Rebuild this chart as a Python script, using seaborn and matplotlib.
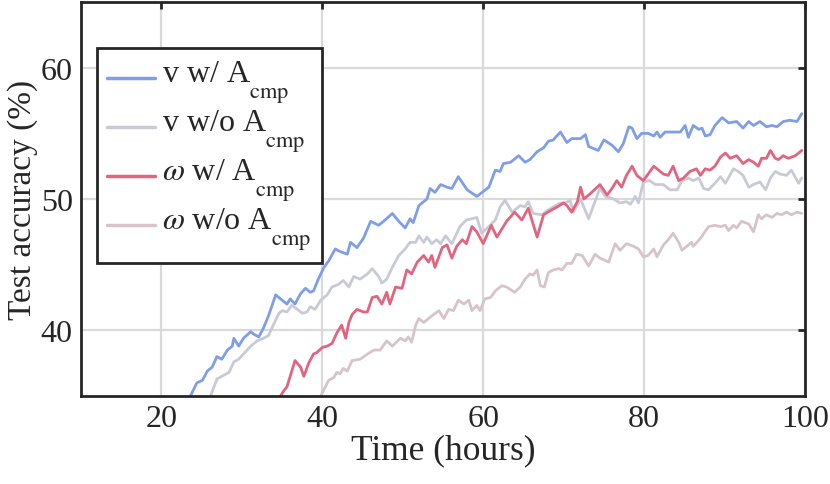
import numpy as np
import pandas as pd
import matplotlib
matplotlib.use("Agg")
import matplotlib.pyplot as plt
from matplotlib.mathtext import MathTextParser
from matplotlib.font_manager import FontProperties
import seaborn as sns

# ---- data ----
v_w_x = [23.6,24.4,25.1,25.7,26.3,26.9,27.5,28.2,28.8,29.0,29.6,30.2,31.1,31.5,32.1,32.7,33.3,34.2,34.6,35.0,
         35.6,36.0,36.6,37.3,37.9,38.5,38.9,39.5,40.2,40.8,41.6,42.2,43.1,43.5,44.3,45.1,46.0,47.0,47.8,48.7,
         49.5,50.3,50.9,51.3,52.0,53.0,53.4,54.0,54.7,55.5,56.1,56.9,58.0,59.2,60.7,61.5,62.1,62.5,63.4,64.4,
         65.2,65.8,66.7,67.5,68.1,68.7,69.6,70.4,71.0,72.1,72.7,73.1,74.3,75.0,76.0,76.8,77.4,78.1,78.5,79.1,
         79.7,80.5,81.2,81.6,82.0,82.6,84.5,85.1,85.5,86.1,86.8,87.2,87.6,88.2,88.8,89.7,90.5,91.5,92.3,93.0,
         93.6,94.4,95.2,95.9,96.5,97.3,98.1,99.0,99.6]
v_w_y = [35.0,36.0,36.2,36.9,37.2,38.0,37.8,38.5,38.8,39.4,38.8,39.4,39.9,39.7,39.5,40.2,41.1,42.7,42.5,42.3,
         42.0,42.4,42.0,42.8,43.2,42.9,43.0,43.9,44.8,45.3,46.2,46.0,45.8,46.7,46.3,47.0,48.3,48.0,48.4,48.9,
         48.3,47.8,48.5,48.2,49.5,50.0,50.8,50.5,51.1,50.9,50.8,51.7,50.7,50.2,50.9,52.2,52.1,52.7,52.8,53.3,
         52.8,53.0,53.6,53.9,54.4,54.5,55.1,54.3,54.6,54.6,54.9,54.0,53.7,54.5,54.1,53.6,54.2,55.5,55.4,54.6,
         55.0,55.0,54.8,55.1,54.7,55.1,55.1,55.6,54.7,55.6,55.3,55.4,54.8,54.9,55.6,56.2,55.8,55.9,55.4,55.9,
         55.6,55.9,55.5,55.6,55.5,55.9,56.0,55.9,56.5]

v_wo_x = [26.1,26.9,27.5,28.4,29.0,29.6,30.2,31.1,31.9,32.7,33.3,33.9,34.6,35.0,35.6,36.2,36.9,37.5,38.1,38.5,
          39.1,39.8,40.6,41.2,42.0,42.6,43.3,43.9,44.7,45.6,46.2,47.0,47.4,48.0,48.7,49.5,50.3,50.9,51.6,52.0,
          52.6,53.0,53.6,54.2,54.7,55.3,56.1,57.1,57.9,58.6,59.2,59.8,60.7,61.5,62.1,62.7,63.6,64.6,65.2,65.6,
          66.2,67.3,67.9,68.7,69.6,70.2,70.8,71.2,72.1,73.1,73.7,74.5,75.2,76.2,77.0,77.8,78.3,78.9,79.3,79.9,
          80.7,81.4,82.4,83.2,84.1,84.7,85.5,86.1,86.8,87.4,88.0,88.8,89.5,90.1,91.1,91.7,92.3,93.0,93.6,94.4,
          95.1,95.7,96.3,96.9,97.7,98.3,99.2,99.6]
v_wo_y = [35.0,36.3,36.5,36.8,37.6,37.8,38.2,38.8,39.2,39.4,39.6,40.4,41.3,41.5,41.4,41.9,41.6,41.3,41.4,41.8,
          41.6,42.3,42.7,43.3,43.5,43.8,43.3,44.1,43.9,44.3,44.7,44.1,43.6,43.9,44.8,45.7,46.2,46.7,46.7,47.2,
          46.7,47.1,46.6,46.9,46.6,47.2,46.6,47.9,48.4,48.5,48.6,47.4,47.9,48.4,49.4,49.9,49.0,49.5,49.4,49.8,
          48.9,48.8,49.1,49.4,49.7,49.7,49.9,49.0,50.0,48.5,49.5,50.8,50.2,50.0,49.7,49.8,49.6,50.2,49.7,51.3,
          51.4,51.1,51.1,50.7,50.7,51.4,51.6,51.4,51.6,50.8,50.7,51.2,51.7,51.2,52.3,52.1,51.8,50.9,51.1,51.3,
          50.7,51.6,52.1,51.9,51.8,52.2,51.2,51.6]

w_w_x = [34.8,35.2,35.6,36.0,36.6,37.3,37.7,38.3,38.9,39.3,40.0,40.6,41.2,41.8,42.4,42.9,43.3,43.7,44.3,45.1,
         45.6,46.2,46.8,47.4,48.0,48.4,49.1,49.9,50.5,51.1,51.8,52.6,53.2,53.6,54.0,54.9,55.5,56.1,56.7,57.4,
         57.9,58.6,59.2,60.0,61.0,61.7,62.9,63.9,64.8,65.6,66.0,66.7,67.5,68.3,69.2,70.0,70.4,71.0,71.7,72.1,
         72.5,73.3,74.5,75.4,76.0,76.6,77.2,77.8,78.5,79.1,79.9,81.2,81.8,82.4,83.0,83.6,84.3,84.9,85.7,86.5,
         87.0,87.6,88.2,88.8,89.5,90.1,90.7,91.5,92.3,93.0,93.6,94.2,94.6,95.2,95.7,96.3,96.7,97.3,97.9,98.8,
         99.6]
w_w_y = [35.0,35.4,35.7,36.5,37.7,37.2,36.5,37.5,38.2,38.3,38.7,38.8,39.0,39.8,40.4,39.4,40.6,41.2,41.6,41.4,
         41.4,42.5,42.6,42.0,42.9,42.0,43.3,43.2,44.6,44.3,45.2,45.7,45.2,45.7,44.8,46.3,46.5,45.5,46.4,46.9,
         46.6,47.9,47.5,46.6,48.0,47.1,48.3,49.0,48.4,49.3,48.5,47.1,48.8,49.1,49.4,49.7,49.5,49.0,49.8,50.9,
         50.0,50.4,51.1,50.3,50.8,51.4,50.9,51.8,52.5,51.8,51.4,52.5,52.2,51.9,51.8,52.5,51.4,51.6,52.1,52.3,
         51.8,52.3,52.2,52.5,53.2,53.5,53.1,53.3,52.7,53.0,52.8,52.5,53.1,53.1,53.7,53.1,53.0,53.3,53.1,53.3,
         53.7]

w_wo_x = [39.8,40.2,40.8,41.4,41.8,42.2,42.6,43.1,43.7,44.7,45.6,46.4,47.2,48.0,48.7,49.7,50.3,50.7,51.1,51.6,
          52.0,52.6,53.6,54.5,55.1,55.7,56.3,56.9,57.6,58.2,58.6,59.2,59.6,60.2,60.9,61.5,62.3,62.9,63.9,64.6,
          65.2,65.8,66.2,66.7,67.1,67.6,68.1,68.7,69.4,69.8,70.4,71.0,71.6,72.3,73.1,73.9,74.5,75.6,76.4,77.0,
          77.8,78.7,79.3,79.9,80.5,81.2,81.6,82.4,83.0,83.6,84.3,84.7,85.3,85.9,86.1,87.0,88.0,88.8,89.5,90.1,
          90.5,91.1,91.5,92.1,93.0,93.6,94.2,94.6,95.2,95.9,96.5,97.1,97.7,98.3,99.0,99.6]
w_wo_y = [35.0,35.5,36.2,36.4,36.8,36.7,37.1,36.9,37.7,37.8,38.2,38.5,38.5,39.2,38.8,39.4,39.2,39.5,39.1,40.4,
          40.9,40.6,41.1,41.5,40.9,41.6,41.5,42.3,42.0,42.3,41.5,41.9,41.5,42.4,42.5,43.0,43.4,43.3,42.9,43.3,
          43.9,44.3,44.2,44.6,43.4,43.3,44.4,44.6,44.7,44.6,45.1,45.1,45.8,45.7,44.9,45.8,45.5,45.2,46.6,46.1,
          46.6,46.4,46.2,45.6,45.7,46.2,45.6,46.5,46.9,47.4,46.7,46.1,46.4,46.7,46.4,47.0,47.9,48.0,47.9,48.0,
          47.6,48.0,47.8,48.3,48.1,47.5,48.8,48.5,48.8,48.6,48.9,48.8,49.0,48.8,49.0,48.9]

label_heads = ["v w/ A", "v w/o A", r"$\omega$ w/ A", r"$\omega$ w/o A"]
subscript = "cmp"
colors = ["#7f9ee9", "#c8cad6", "#e2657f", "#d6c4ca"]
xticks = [20, 40, 60, 80, 100]
yticks = [40, 50, 60]

sns.set_theme(style="white")
plt.rcParams["font.family"] = ["Liberation Serif", "DejaVu Serif"]
plt.rcParams["mathtext.fontset"] = "stix"

LEG_FS = 23

# subscript dropped well below the baseline (as in the reference); fall back if unsupported
def make_label(head):
    cand = head + r"$\underset{\mathrm{" + subscript + r"}}{\,}$"
    try:
        MathTextParser("path").parse(cand, dpi=72, prop=FontProperties(size=20))
        return cand
    except Exception:
        return head + r"$_{\mathrm{" + subscript + r"}}$"

labels = [make_label(h) for h in label_heads]

frames = []
for lab, xs, ys in zip(labels, [v_w_x, v_wo_x, w_w_x, w_wo_x], [v_w_y, v_wo_y, w_w_y, w_wo_y]):
    frames.append(pd.DataFrame({"time": xs, "acc": ys, "series": lab}))
df = pd.concat(frames, ignore_index=True)

fig = plt.figure(figsize=(8.3, 4.85), dpi=100)
ax = fig.add_axes([0.0976, 0.1814, 0.8723, 0.8124])

sns.lineplot(data=df, x="time", y="acc", hue="series", hue_order=labels,
             palette=dict(zip(labels, colors)), estimator=None, sort=False,
             linewidth=2.0, ax=ax, legend=True)

ax.set_xlim(10, 100)
ax.set_ylim(35, 65)
ax.set_xticks(xticks)
ax.set_yticks(yticks)
ax.grid(True, color="#dadada", linewidth=1.6)
ax.set_axisbelow(True)
for s in ax.spines.values():
    s.set_color("#262626")
    s.set_linewidth(2.0)
ax.tick_params(direction="in", length=5, width=2, color="#262626",
               top=True, right=True, labelsize=23, labelcolor="#262626", pad=6)
ax.set_xlabel("Time (hours)", fontsize=25.5, color="#262626", labelpad=0)
ax.set_ylabel("Test accuracy (%)", fontsize=24, color="#262626", labelpad=2)

leg = ax.legend(loc="upper left", bbox_to_anchor=(0.022, 0.884), fontsize=LEG_FS,
                frameon=True, fancybox=False, framealpha=1, edgecolor="#262626",
                handlelength=1.5, handletextpad=0.22, labelspacing=0.08,
                borderpad=0.33, borderaxespad=0)
leg.get_frame().set_linewidth(2.0)
for h in leg.get_lines():
    h.set_linewidth(2.5)
    # sit the legend swatch near the text baseline, as in the reference
    h.set_ydata(np.asarray(h.get_ydata(), dtype=float) - 0.24 * LEG_FS)

fig.savefig("out.png", dpi=100)
